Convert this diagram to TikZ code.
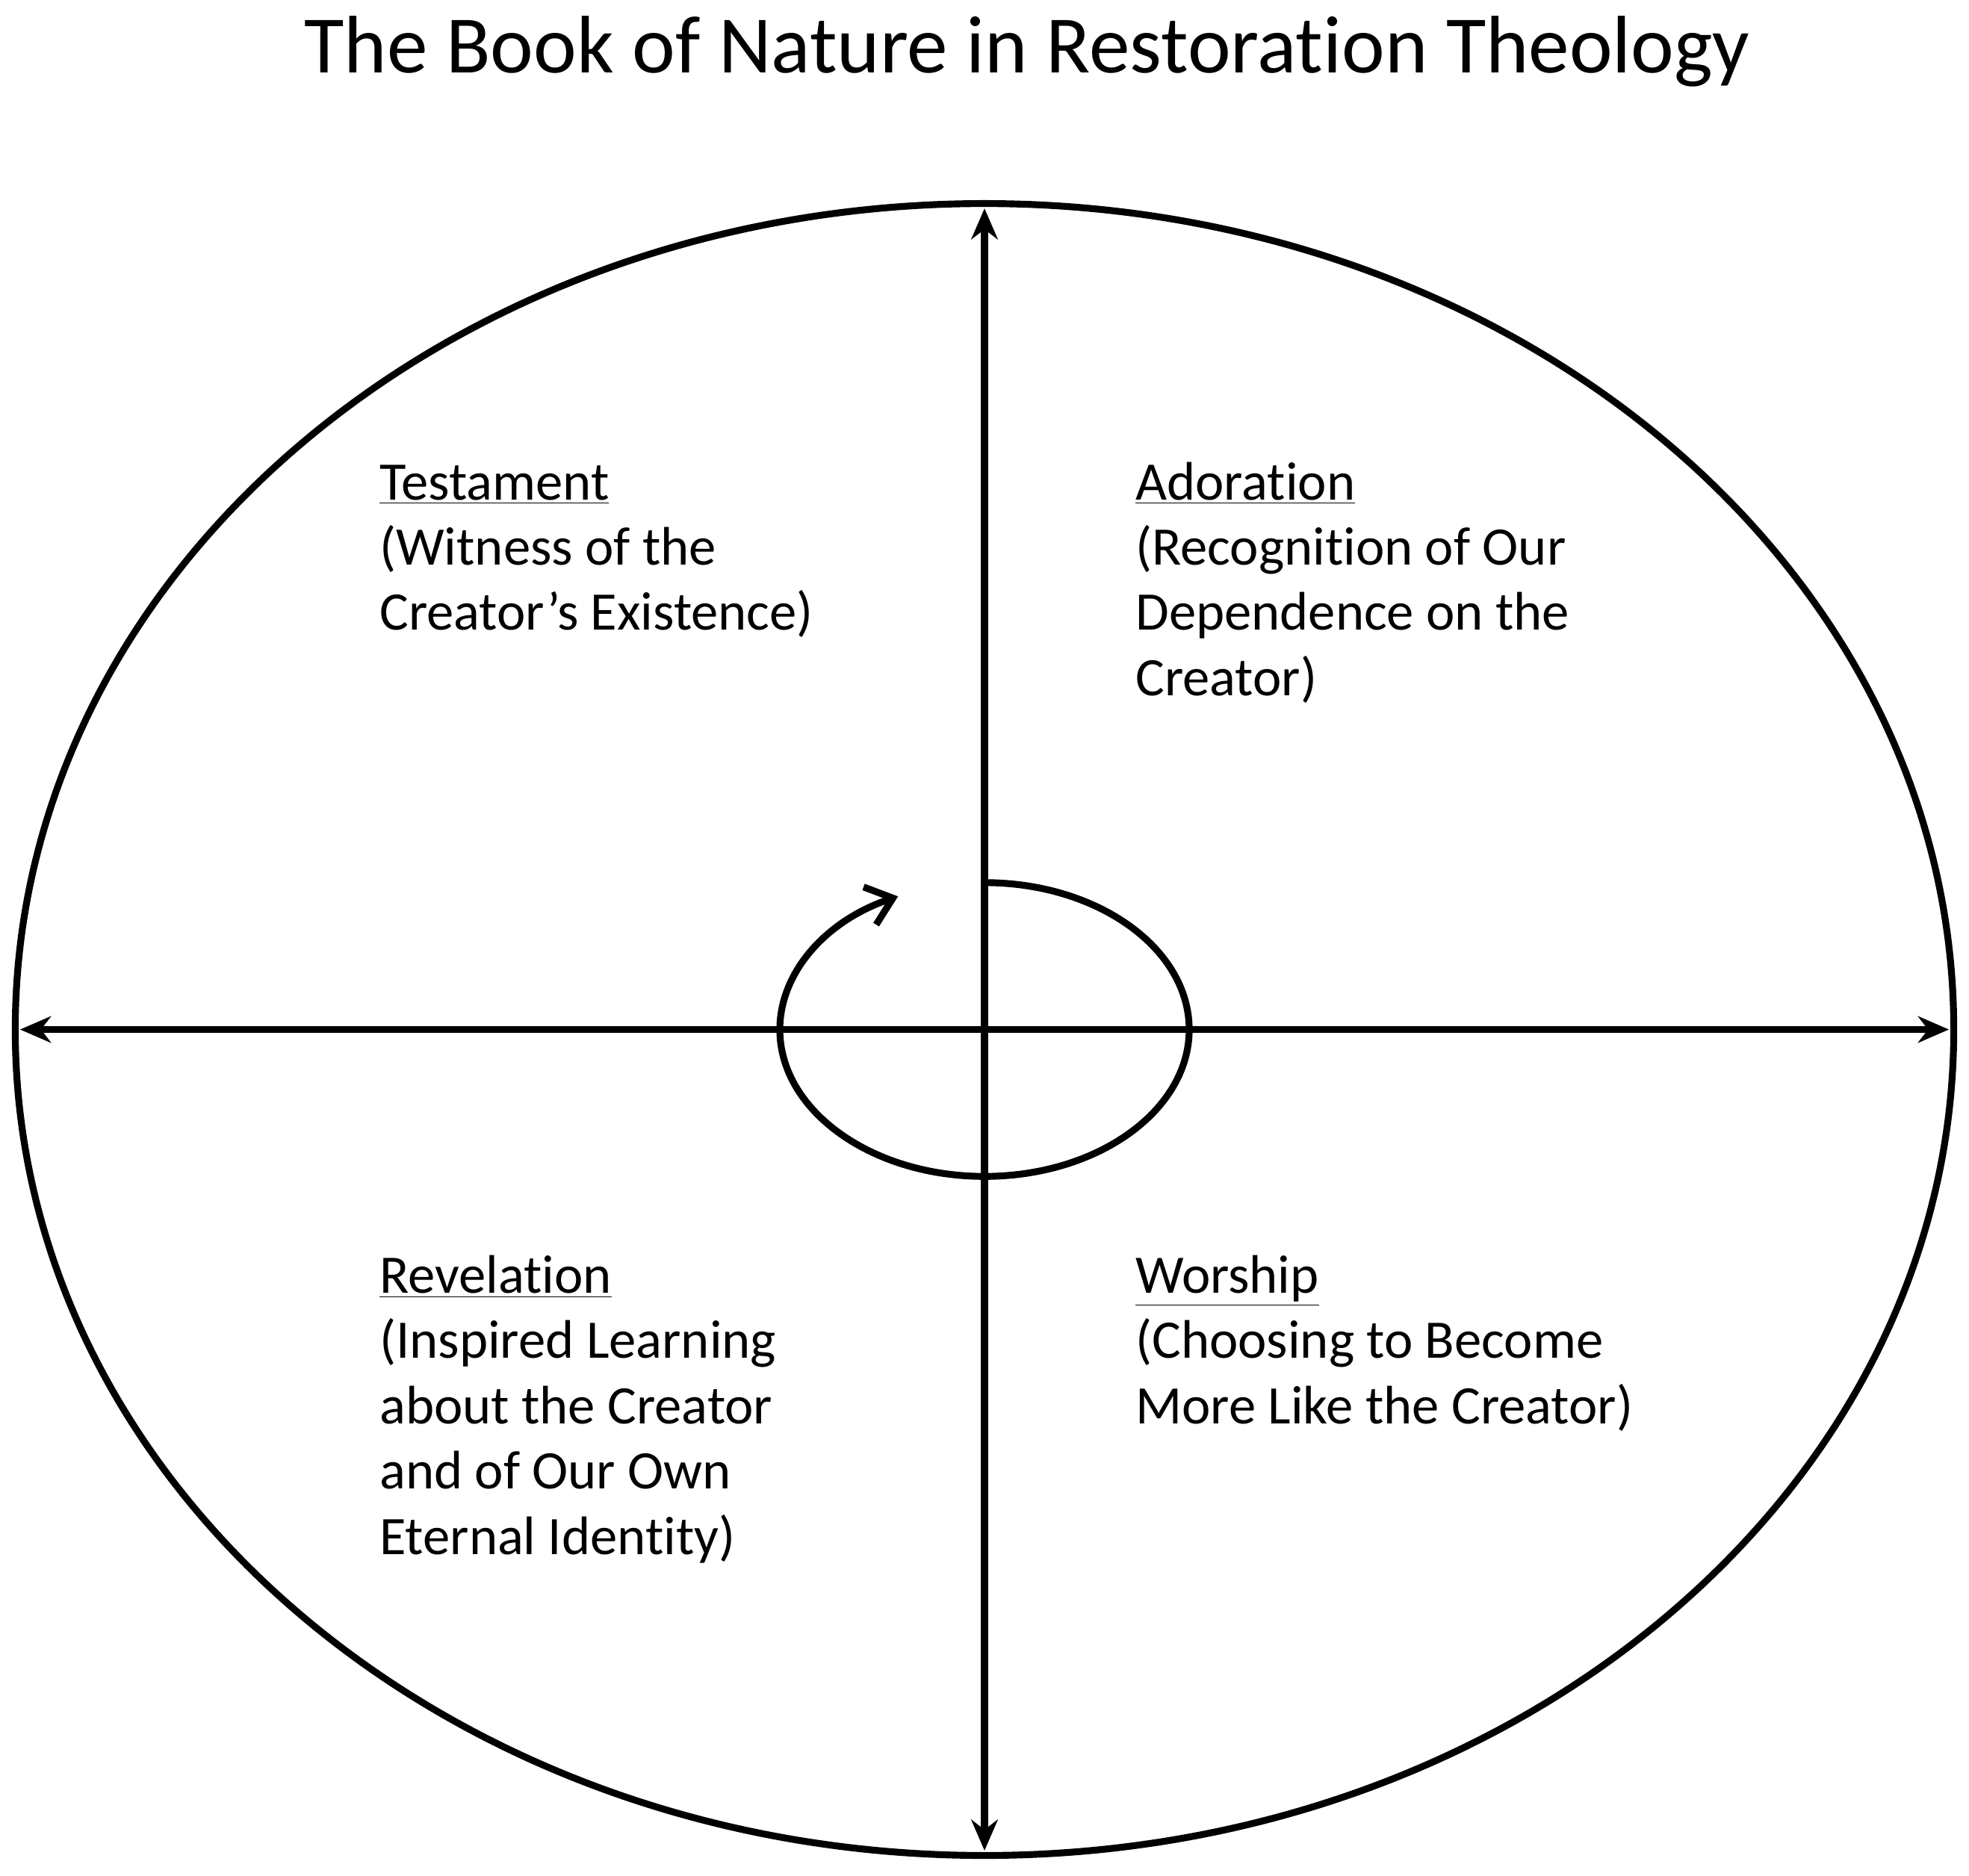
\documentclass[tikz,border=0pt]{standalone}
\usepackage{fontspec}
\setmainfont{Carlito}[Ligatures=NoCommon]
\usetikzlibrary{shapes.geometric,arrows.meta}
\begin{document}
\begin{tikzpicture}[x=0.02cm,y=-0.02cm,
  ln/.style={line width=3.1pt},
  arr/.style={ln,{Stealth[length=14pt,width=12pt]}-{Stealth[length=14pt,width=12pt]}},
  lbl/.style={anchor=base west,align=left,inner sep=0pt,font=\fontsize{24.6}{29.6}\selectfont}]
\useasboundingbox (0,0) rectangle (1568,1494);
\node[font=\fontsize{37}{42}\selectfont,anchor=base] (title) at (818,58) {The Book of Nature in Restoration Theology};
\node[ln,draw,ellipse,minimum width=30.88cm,minimum height=26.32cm,inner sep=0pt] (big) at (784,820) {};
\coordinate (c) at (784,820);
\draw[arr] (784,166) coordinate (vt) -- (784,1474) coordinate (vb);
\draw[arr] (16,820) coordinate (hl) -- (1552,820) coordinate (hr);
\draw[ln,-{Straight Barb[length=11pt,width=18pt]}] (c) ++(0,-117) arc[start angle=90,end angle=-245,x radius=163,y radius=-117];
\node[lbl] (t) at (302,502) {\underline{Testament}\\(Witness of the\\Creator’s Existence)};
\node[lbl] (a) at (904,554) {\underline{Adoration}\\(Recognition of Our\\Dependence on the\\Creator)};
\node[lbl] (r) at (302,1238) {\underline{Revelation}\\(Inspired Learning\\about the Creator\\and of Our Own\\Eternal Identity)};
\node[lbl] (w) at (904,1134) {\underline{Worship}\\(Choosing to Become\\More Like the Creator)};
\end{tikzpicture}
\end{document}
